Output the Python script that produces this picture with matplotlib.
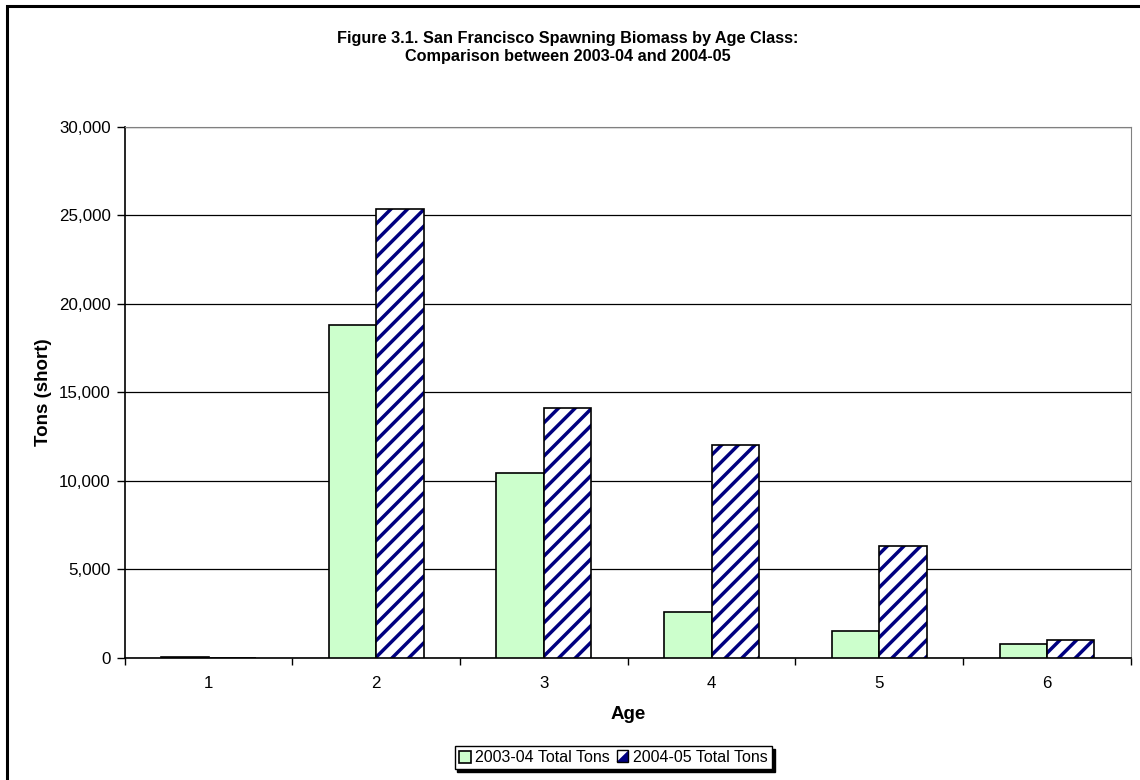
import numpy as np
import matplotlib
matplotlib.use("Agg")
import matplotlib.pyplot as plt
from matplotlib.patches import Rectangle, Polygon

plt.rcParams['font.family'] = ['Liberation Sans', 'DejaVu Sans']
plt.rcParams['hatch.linewidth'] = 2.5

ages = ['1', '2', '3', '4', '5', '6']
tons_0304 = [50, 18800, 10450, 2600, 1550, 810]
tons_0405 = [20, 25350, 14100, 12000, 6330, 1020]
labels = ['2003-04 Total Tons', '2004-05 Total Tons']


class HatchKey:
    # square legend key: white / navy split on the diagonal, black border
    def legend_artist(self, legend, orig_handle, fontsize, handlebox):
        x0, y0 = handlebox.xdescent, handlebox.ydescent
        w, h = handlebox.width, handlebox.height
        tr = handlebox.get_transform()
        box = Rectangle((x0, y0), w, h, facecolor='white', edgecolor='none', transform=tr)
        tri = Polygon([[x0 + w, y0], [x0 + w, y0 + h], [x0, y0]], closed=True,
                      facecolor='#000080', edgecolor='none', transform=tr)
        edge = Rectangle((x0, y0), w, h, fill=False, edgecolor='black',
                         linewidth=1.0, transform=tr)
        for a in (box, tri, edge):
            handlebox.add_artist(a)
        return box


fig = plt.figure(figsize=(11.4, 7.8), dpi=100)
ax = fig.add_axes([0.1094, 0.1564, 0.8826, 0.6812])

x = np.arange(1, len(ages) + 1)
w = 0.283

green = ax.bar(x - w / 2, tons_0304, w, color='#ccffcc', edgecolor='black',
               linewidth=1.2, zorder=3)
hatched = ax.bar(x + w / 2, tons_0405, w, color='white', edgecolor='#000080',
                 hatch='//', linewidth=0, zorder=3)
outline = ax.bar(x + w / 2, tons_0405, w, fill=False, edgecolor='black',
                 linewidth=1.2, zorder=4)

ax.set_xlim(0.5, 6.5)
ax.set_ylim(0, 30000)
ax.set_yticks(np.arange(0, 30001, 5000))
ax.yaxis.set_major_formatter(matplotlib.ticker.StrMethodFormatter('{x:,.0f}'))
ax.yaxis.grid(True, color='black', linewidth=0.9, zorder=0)

# category boundaries get the ticks, labels sit in between
ax.set_xticks(np.arange(0.5, 6.6, 1.0))
ax.set_xticklabels([])
ax.set_xticks(x, minor=True)
ax.set_xticklabels(ages, minor=True)
ax.tick_params(axis='x', which='minor', length=0, pad=13, labelsize=12.2)
ax.tick_params(axis='x', which='major', direction='out', length=5, width=1)
ax.tick_params(axis='y', direction='out', length=6, width=1, labelsize=12.2, pad=4)

for s in ['top', 'right']:
    ax.spines[s].set_color('#808080')
for s in ['left', 'bottom']:
    ax.spines[s].set_linewidth(1.2)

ax.set_xlabel('Age', fontsize=13.5, fontweight='bold', labelpad=11)
ax.set_ylabel('Tons (short)', fontsize=13.5, fontweight='bold', labelpad=5)

fig.text(0.498, 0.939, 'Figure 3.1. San Francisco Spawning Biomass by Age Class:\n'
         'Comparison between 2003-04 and 2004-05',
         ha='center', va='center', fontsize=11.7, fontweight='bold', linespacing=1.25)

leg = fig.legend([green, hatched], labels,
                 handler_map={hatched: HatchKey()},
                 loc='center', bbox_to_anchor=(0.538, 0.0285), ncol=2,
                 fontsize=11.5, frameon=True, fancybox=False,
                 shadow={'color': 'black', 'alpha': 1},
                 edgecolor='black', handlelength=0.75, handleheight=0.75,
                 handletextpad=0.3, columnspacing=0.4, borderpad=0.25,
                 borderaxespad=0)
leg.get_frame().set_linewidth(1.0)

# outer chart border (left and top visible)
fig.patches.append(Rectangle((7 / 1140, -0.05), 1.1, (774 / 780) + 0.05,
                             transform=fig.transFigure, fill=False,
                             edgecolor='black', linewidth=2.2))

fig.savefig('out.png', dpi=100)
